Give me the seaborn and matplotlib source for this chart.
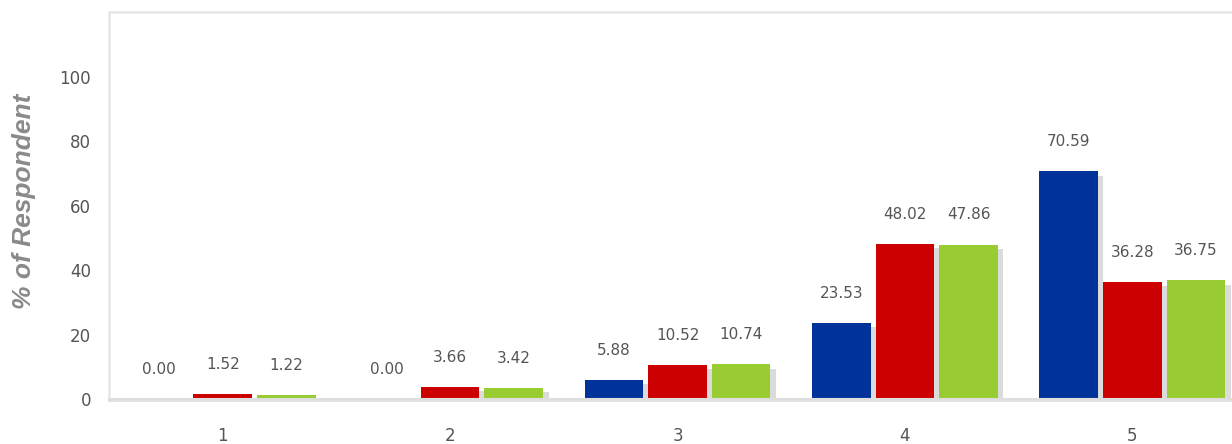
import pandas as pd
import matplotlib.pyplot as plt
import matplotlib.patheffects as pe
import seaborn as sns

# Values
categories = ['1', '2', '3', '4', '5']
series_names = ['Series 1', 'Series 2', 'Series 3']
blue_vals = [0.00, 0.00, 5.88, 23.53, 70.59]
red_vals = [1.52, 3.66, 10.52, 48.02, 36.28]
green_vals = [1.22, 3.42, 10.74, 47.86, 36.75]
colors = ['#003399', '#cc0000', '#99cc33']

rows = []
for name, vals in zip(series_names, [blue_vals, red_vals, green_vals]):
    for cat, v in zip(categories, vals):
        rows.append({'Rating': cat, 'Series': name, 'Percent': v})
df = pd.DataFrame(rows)

sns.set_style('white')
fig = plt.figure(figsize=(12.32, 4.44), dpi=100)
ax = fig.add_axes([109 / 1232, 45 / 444, 1137 / 1232, 387 / 444])

sns.barplot(data=df, x='Rating', y='Percent', hue='Series', order=categories,
            hue_order=series_names, palette=colors, width=0.84, gap=0.08,
            legend=False, ax=ax, saturation=1, linewidth=0)

# soft drop shadow like the original
shadow = [pe.SimplePatchShadow(offset=(4, -3), shadow_rgbFace='#999999', alpha=0.35),
          pe.Normal()]
for p in ax.patches:
    p.set_path_effects(shadow)

for cont in ax.containers:
    ax.bar_label(cont, fmt='%.2f', padding=16, fontsize=11, color='#555555')

ax.set_xlim(-0.5, 4.5)
ax.set_ylim(0, 120)
ax.set_yticks([0, 20, 40, 60, 80, 100])
ax.tick_params(axis='y', length=0, pad=13, labelsize=12, labelcolor='#555555')
ax.tick_params(axis='x', length=0, pad=20, labelsize=12, labelcolor='#555555')
ax.set_xlabel('')
ax.set_ylabel('% of Respondent', fontsize=19, fontweight='bold', style='italic',
              family='Liberation Sans', color='#8a8a8a', va='center')
ax.yaxis.set_label_coords(-0.075, 0.51)

for side in ['left', 'top']:
    ax.spines[side].set_color('#e6e6e6')
    ax.spines[side].set_linewidth(1.8)
ax.spines['right'].set_visible(False)
ax.spines['bottom'].set_color('#dedede')
ax.spines['bottom'].set_linewidth(1.5)
ax.spines['bottom'].set_path_effects([pe.SimpleLineShadow(offset=(0, -1.5), shadow_color='#bbbbbb', alpha=0.4), pe.Normal()])
ax.grid(False)

plt.savefig('out.png', dpi=100)
